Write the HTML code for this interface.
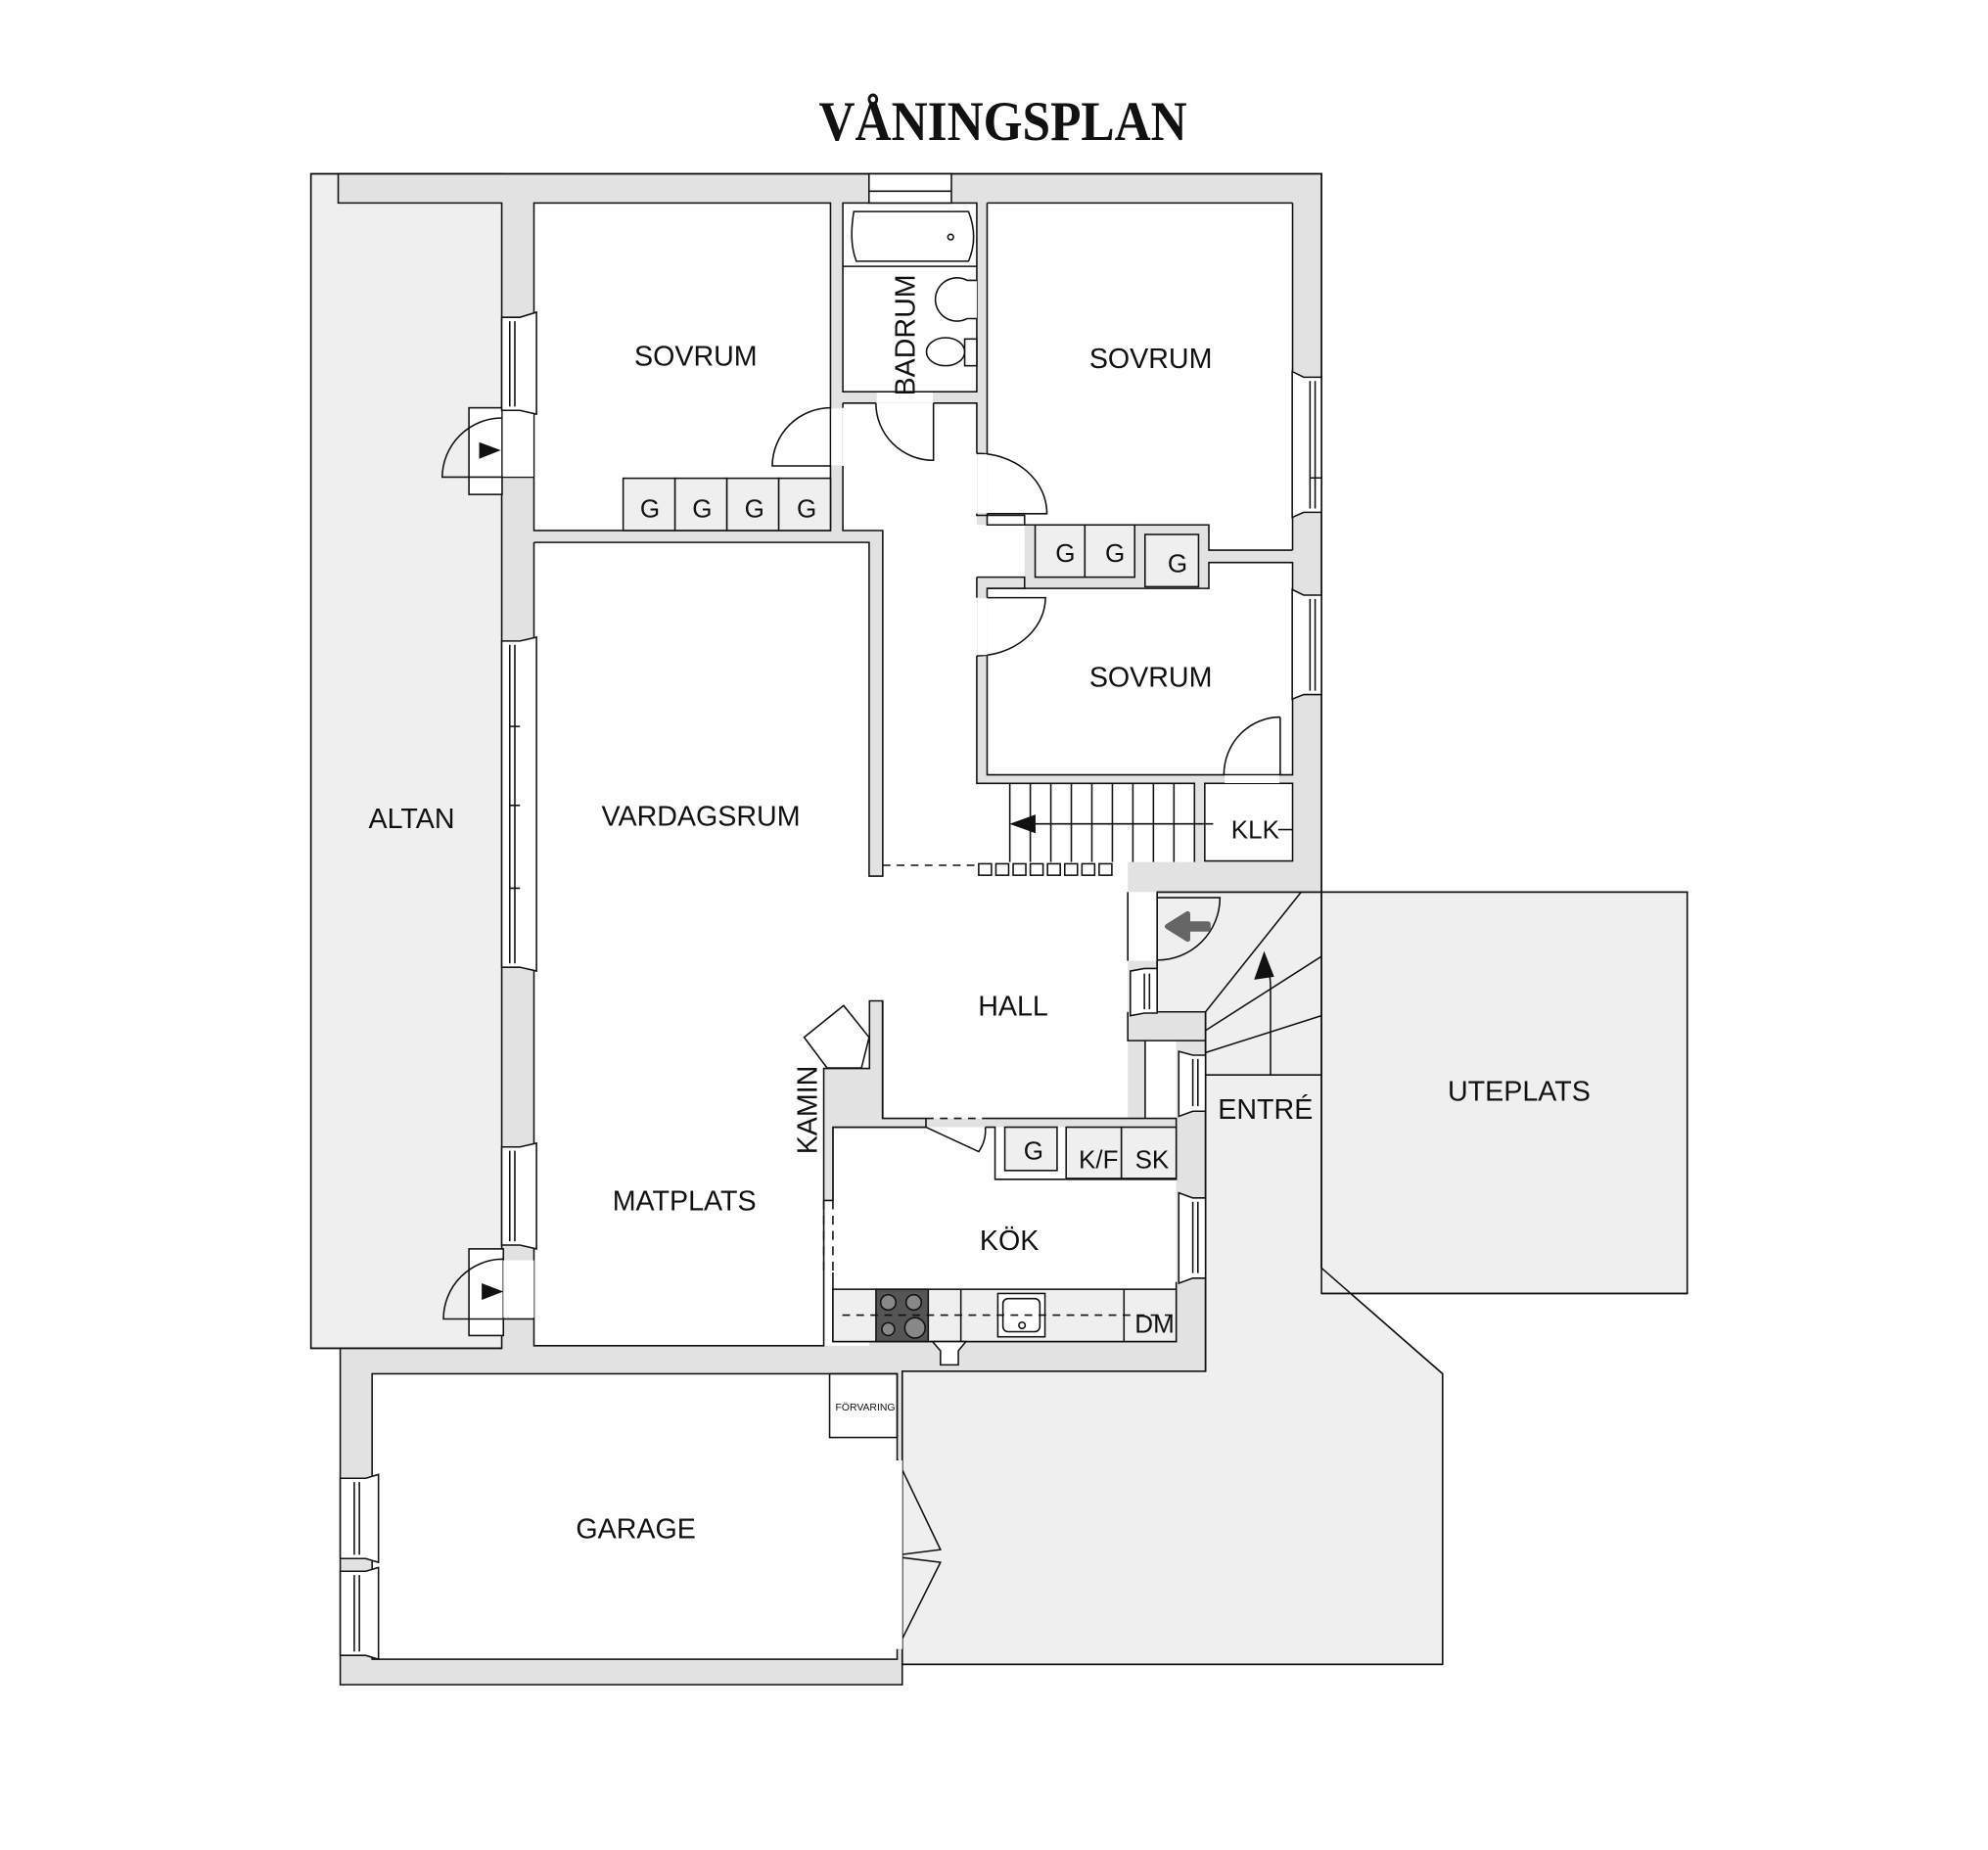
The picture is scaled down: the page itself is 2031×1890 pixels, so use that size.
<!DOCTYPE html>
<html><head><meta charset="utf-8"><style>
html,body{margin:0;padding:0;background:#fff;}
svg{display:block;}
text{font-family:"Liberation Sans",sans-serif;fill:#111;}
</style></head><body>
<svg width="2031" height="1890" viewBox="0 0 1560 1451.7" xmlns="http://www.w3.org/2000/svg">
<g stroke="#111" stroke-width="1.2" stroke-linejoin="miter">
<text x="787" y="110" text-anchor="middle" font-weight="bold" font-size="44" textLength="289" lengthAdjust="spacingAndGlyphs" stroke="none" style="font-family:'Liberation Serif',serif">VÅNINGSPLAN</text>

<rect x="244" y="136.4" width="150" height="921.6" fill="#efefef"/>
<polygon points="908,700 1037,700 1037,995 1132,1078 1132,1306 708,1306 708,1076 946,1076 946,794 908,794" fill="#efefef"/>
<rect x="1037" y="700" width="287" height="315" fill="#efefef"/>

<polygon points="265.4,136.4 1037,136.4 1037,700 908,700 908,794 946,794 946,1076 708,1076 708,1322 267,1322 267,1058 393.7,1058 393.7,159.3 265.4,159.3" fill="#e2e2e2"/>

<g fill="#fff" stroke="none">
<rect x="419" y="159.3" width="232.7" height="257"/>
<rect x="661.4" y="159.3" width="105.1" height="148.1"/>
<rect x="661.4" y="316.3" width="105.1" height="100"/>
<rect x="692.7" y="410" width="73.8" height="277"/>
<rect x="766.5" y="614.7" width="26" height="61.7"/>
<rect x="774.6" y="159.3" width="239.7" height="252.6"/>
<rect x="948.6" y="411" width="65.7" height="20.7"/>
<rect x="948.6" y="441.4" width="65.7" height="21"/>
<rect x="766.5" y="411.9" width="37.5" height="41"/>
<rect x="774.6" y="461.7" width="239.7" height="146.3"/>
<rect x="792.4" y="614.7" width="144.9" height="61.7"/>
<rect x="945.4" y="614.7" width="68.9" height="60.9"/>
<rect x="419" y="425.6" width="263" height="630.4"/>
<rect x="682" y="687.5" width="11" height="98"/>
<rect x="692.7" y="676" width="192.3" height="201.6"/>
<rect x="884" y="700" width="24" height="54"/>
<rect x="898.6" y="816.6" width="24.4" height="61"/>
<rect x="653.6" y="884.5" width="269.4" height="168.2"/>
<rect x="292" y="1078" width="412" height="224"/>
<rect x="651" y="1078" width="53" height="50"/>
</g>
<g fill="none">
<rect x="419" y="159.3" width="232.7" height="257"/>
<rect x="661.4" y="159.3" width="105.1" height="148.1"/>
<path d="M661.4,316.3 H687.3 M732.5,316.3 H766.5 V355.9 M766.5,403.1 V404.4 H804 V411.9 M766.5,452.9 H804 V461.7 H774.6 M766.5,452.9 V469 M766.5,514.6 V614.7 H792.4"/>
<path d="M661.4,316.3 V320 M661.4,365.6 V416.3 H692.7 V687.5 H682 V425.6 H419"/>
<path d="M774.6,159.3 V355.9 M774.6,403.1 V411.9 H948.6 V431.7 H1014.3 M1014.3,159.3 H774.6 M1014.3,159.3 V431.7"/>
<path d="M774.6,469 V461.7 H948.6 V441.4 H1014.3 V608 H1004.6 M960.4,608 H774.6 V514.6"/>
<rect x="945.4" y="614.7" width="68.9" height="60.9"/>
<path d="M792.4,614.7 H937.3 V676.4"/>
<path d="M419,425.6 V1056 H646.4 V942 M653.6,942 V884.5 H726.6 M773.2,884.5 H780.8 V925.4 H923 V884.5"/>
<path d="M653.6,998.4 V1052.7 H923 V1006"/>
<path d="M692.7,785.4 V877.6 M885,700 V754 M885,794 V816.6 H946"/>
<rect x="292" y="1078" width="412" height="224"/>
<rect x="651" y="1078" width="53" height="50"/>
<path d="M908,700 V794 H946 V1076 M1037,700 V995 L1132,1078 V1306 H708 V1076 M908,700 H1324 V1015 H1037"/>
<path d="M244,136.4 V1058 H394 M244,136.4 H1037 V700"/>
<path d="M898.6,816.6 V877.6"/>
</g>

<polygon points="682.3,785.4 692.5,785.4 692.5,877.6 726.6,877.6 726.6,884.5 653.6,884.5 653.6,942 646.4,942 646.4,838.4 682.3,838.4" fill="#e2e2e2"/>
<polygon points="631,814 662,789 682,814 676,838 649,838" fill="#fff"/>
<path d="M773.2,877.6 H923 V884.5" fill="none"/>

<g fill="#efefef">
<rect x="489" y="375.3" width="40.7" height="41"/>
<rect x="529.7" y="375.3" width="40.7" height="41"/>
<rect x="570.4" y="375.3" width="40.7" height="41"/>
<rect x="611.1" y="375.3" width="40.6" height="41"/>
<rect x="812.3" y="411.9" width="39" height="41"/>
<rect x="851.3" y="411.9" width="39.1" height="41"/>
<rect x="898.5" y="419.4" width="42" height="41"/>
<rect x="788.5" y="884.5" width="41" height="34"/>
<rect x="836.6" y="884.5" width="43.4" height="40.2"/>
<rect x="880" y="884.5" width="43" height="40.2"/>
<rect x="653.6" y="1011.7" width="269.4" height="41"/>
</g>
<rect x="687.4" y="1011.7" width="41" height="41" fill="#555"/>
<g fill="#888"><circle cx="697" cy="1022" r="6"/><circle cx="717" cy="1022" r="6"/><circle cx="697" cy="1043" r="5"/><circle cx="718" cy="1042" r="8"/></g>
<line x1="754" y1="1011.7" x2="754" y2="1052.7"/>
<line x1="882" y1="1011.7" x2="882" y2="1052.7"/>
<rect x="783" y="1015" width="37" height="34" fill="#fff"/>
<rect x="787" y="1019" width="29" height="26" rx="4" fill="#fff"/>
<circle cx="802" cy="1040" r="2.5" fill="none"/>
<line x1="661" y1="1032" x2="923" y2="1032" stroke-dasharray="6,5"/>
<path d="M731.7,1052.7 H758 L752,1060 V1071 H738 V1060 Z" fill="#fff"/>

<rect x="681.9" y="136.4" width="64.7" height="22.9" fill="#fff"/>
<line x1="681.9" y1="150" x2="746.6" y2="150"/>
<path d="M670,166 Q666,190 672,205 H760 Q768,186 760,166 Z" fill="#fff"/>
<circle cx="746" cy="186" r="2.2" fill="#fff"/>
<line x1="661.4" y1="209" x2="766.5" y2="209"/>
<path d="M766.5,220 H759 A17,17 0 1 0 759,250 H766.5" fill="#fff"/>
<ellipse cx="742" cy="276" rx="15" ry="11" fill="#fff"/>
<rect x="757" y="266" width="9.5" height="21" fill="#fff"/>

<g fill="none">
<path d="M808.5,614.7 V676.4 M824.6,614.7 V676.4 M840.7,614.7 V676.4 M856.8,614.7 V676.4 M872.9,614.7 V676.4 M889,614.7 V676.4 M905.1,614.7 V676.4 M921.2,614.7 V676.4 M792.4,614.7 V676.4"/>
<line x1="797" y1="646.5" x2="952" y2="646.5"/>
<line x1="1003" y1="651" x2="1014" y2="651"/>
</g>
<polygon points="794,646.5 812,640 812,653" fill="#111"/>
<g fill="#fff"><rect x="768" y="677.8" width="10" height="9"/><rect x="781.5" y="677.8" width="10" height="9"/><rect x="795" y="677.8" width="10" height="9"/><rect x="808.5" y="677.8" width="10" height="9"/><rect x="822" y="677.8" width="10" height="9"/><rect x="835.5" y="677.8" width="10" height="9"/><rect x="849" y="677.8" width="10" height="9"/><rect x="862.5" y="677.8" width="10" height="9"/></g>
<line x1="692.7" y1="679" x2="766" y2="679" stroke-dasharray="6,5"/>

<g fill="none">
<rect x="368" y="320" width="26" height="68" fill="#fff"/>
<path d="M393.7,328 A47,47 0 0 0 347,374.4 H419"/>
<rect x="368" y="980" width="27" height="68" fill="#fff"/>
<path d="M395,988 A47,47 0 0 0 348,1035 H419"/>
<path d="M651.7,320 A46,46 0 0 0 606,365.6 H651.7"/>
<path d="M687.3,316.3 A45,45 0 0 0 732.5,361.2 V316.3"/>
<path d="M766.5,355.9 A54,47 0 0 1 821.5,403.1 H774.6"/>
<path d="M774.6,469 H820.4 A54,46 0 0 1 766.5,514.6"/>
<path d="M1004.6,562.7 V608 H960.4 A44.2,45.3 0 0 1 1004.6,562.7"/>
<path d="M908,704.4 H957.3 A49,49 0 0 1 908,753.4"/>
<path d="M726.6,877.6 H773.2" stroke-dasharray="6,5"/>
<path d="M726.6,884.5 L768,903.7 Q774,895 773.2,884.5"/>
<path d="M646.4,942 V998.4 M653.6,942 V998.4" stroke-dasharray="7,5"/>
<path d="M704,1145 L738,1216 L706,1220 M706,1222 L738,1226 L704,1294"/>
</g>
<g fill="#fff" stroke="none"><rect x="394.5" y="322" width="24" height="52"/><rect x="395" y="989" width="24" height="45"/><rect x="652.3" y="320.6" width="8.5" height="44.4"/><rect x="688" y="308" width="44" height="8"/><rect x="767" y="356.5" width="7.5" height="46"/><rect x="767" y="469.5" width="7.5" height="44.5"/><rect x="961" y="608.5" width="43" height="6"/><rect x="697" y="1146" width="11" height="148"/></g>
<polygon points="376,347 393,353.3 376,360" fill="#111" stroke="none"/>
<polygon points="378,1007 395,1013.5 378,1020" fill="#111" stroke="none"/>
<path d="M946,794 L1021,700 M946,808.6 L1037,750.5 M946,826 L1037,797 M946,843.5 H1037" fill="none"/>
<path d="M997,843.5 V775 Q997,762 992,752" fill="none"/>
<polygon points="992,748 985,768 999,766" fill="#111"/>
<path d="M948,729 H932 V737 L916,727 L932,717 V725 H948 Z" fill="#666" stroke="#666" stroke-width="4" stroke-linejoin="round"/>

<g fill="#fff">
<path d="M393.7,249 H408 L421,245 V325 L408,322 H393.7 Z"/><path d="M400,252 V319 M404,252 V319" fill="none"/>
<path d="M393.7,503 H408 L421,500 V762 L408,759 H393.7 Z"/><path d="M400,506 V756 M404,506 V756 M400,570 H408 M400,632 H408 M400,697 H408" fill="none"/>
<path d="M393.7,900 H408 L421,897 V980 L408,977 H393.7 Z"/><path d="M400,903 V974 M404,903 V974" fill="none"/>
<path d="M1037,296 H1023 L1014,291.5 V406 L1023,402 H1037 Z"/><path d="M1028,299 V399 M1032,299 V399 M1028,375 H1037" fill="none"/>
<path d="M1037,467 H1023 L1014,462.6 V548.6 L1023,545 H1037 Z"/><path d="M1028,470 V542 M1032,470 V542" fill="none"/>
<path d="M908,760 H898 L887,762 V797 L898,795 H908 Z"/><path d="M898,764 V792 M902,764 V792" fill="none"/>
<path d="M946,828 H936 L925,825 V876 L936,872 H946 Z"/><path d="M936,831 V868 M940,831 V868" fill="none"/>
<path d="M946,940 H936 L925,936 V1007 L936,1003 H946 Z"/><path d="M936,943 V999 M940,943 V999" fill="none"/>
<path d="M267,1160 H287 L297,1157 V1226 L287,1223 H267 Z"/><path d="M278,1163 V1220 M282,1163 V1220" fill="none"/>
<path d="M267,1233 H287 L297,1230 V1302 L287,1299 H267 Z"/><path d="M278,1236 V1296 M282,1236 V1296" fill="none"/>
</g>
</g>

<g font-size="22" text-anchor="middle" dominant-baseline="central">
<text x="546" y="280">SOVRUM</text>
<text x="903" y="282">SOVRUM</text>
<text x="903" y="532">SOVRUM</text>
<text x="323" y="643">ALTAN</text>
<text x="550" y="641">VARDAGSRUM</text>
<text x="795" y="790">HALL</text>
<text x="537" y="943">MATPLATS</text>
<text x="792" y="974">KÖK</text>
<text x="499" y="1200">GARAGE</text>
<text x="1192" y="857">UTEPLATS</text>
<text x="993" y="871">ENTRÉ</text>
<text x="985" y="651" font-size="20">KLK</text>
<text transform="translate(711,263) rotate(-90)">BADRUM</text>
<text transform="translate(634,871) rotate(-90)">KAMIN</text>
<g font-size="20">
<text x="510" y="399">G</text><text x="551" y="399">G</text><text x="592" y="399">G</text><text x="633" y="399">G</text>
<text x="836" y="434">G</text><text x="875" y="434">G</text><text x="924" y="442">G</text>
<text x="811" y="903">G</text><text x="862" y="910">K/F</text><text x="904" y="910">SK</text><text x="906" y="1039">DM</text>
</g>
<text x="679" y="1105" font-size="8">FÖRVARING</text>
</g>
</svg>
</body></html>
